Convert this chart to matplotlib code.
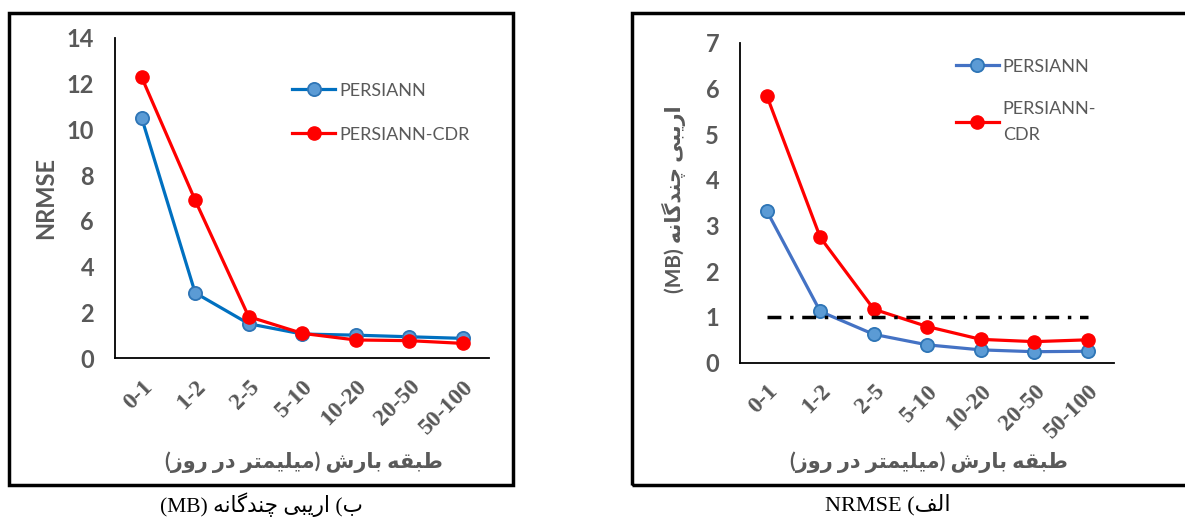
import matplotlib.pyplot as plt
from matplotlib.patches import Rectangle

# data
classes = ['0-1', '1-2', '2-5', '5-10', '10-20', '20-50', '50-100']
nrmse_persiann = [10.5, 2.85, 1.5, 1.05, 1.0, 0.93, 0.86]
nrmse_cdr = [12.28, 6.9, 1.81, 1.08, 0.79, 0.76, 0.64]
mb_persiann = [3.32, 1.12, 0.62, 0.39, 0.28, 0.24, 0.25]
mb_cdr = [5.84, 2.74, 1.17, 0.79, 0.51, 0.46, 0.50]
mb_ref = 1.0

# persian shaping by hand (matplotlib does no arabic shaping / bidi)
FORMS = {
    'ا': ('\uFE8D', '\uFE8E', None, None),
    'ب': ('\uFE8F', '\uFE90', '\uFE91', '\uFE92'),
    'ت': ('\uFE95', '\uFE96', '\uFE97', '\uFE98'),
    'د': ('\uFEA9', '\uFEAA', None, None),
    'ر': ('\uFEAD', '\uFEAE', None, None),
    'ز': ('\uFEAF', '\uFEB0', None, None),
    'ش': ('\uFEB5', '\uFEB6', '\uFEB7', '\uFEB8'),
    'ط': ('\uFEC1', '\uFEC2', '\uFEC3', '\uFEC4'),
    'ف': ('\uFED1', '\uFED2', '\uFED3', '\uFED4'),
    'ق': ('\uFED5', '\uFED6', '\uFED7', '\uFED8'),
    'ل': ('\uFEDD', '\uFEDE', '\uFEDF', '\uFEE0'),
    'م': ('\uFEE1', '\uFEE2', '\uFEE3', '\uFEE4'),
    'ن': ('\uFEE5', '\uFEE6', '\uFEE7', '\uFEE8'),
    'ه': ('\uFEE9', '\uFEEA', '\uFEEB', '\uFEEC'),
    'و': ('\uFEED', '\uFEEE', None, None),
    'ی': ('\uFBFC', '\uFBFD', '\uFBFE', '\uFBFF'),
    'چ': ('\uFB7A', '\uFB7B', '\uFB7C', '\uFB7D'),
    'گ': ('\uFB92', '\uFB93', '\uFB94', '\uFB95'),
}


def dual(c):
    return c in FORMS and FORMS[c][2] is not None


def fa(word):
    out = []
    for i, c in enumerate(word):
        prev = i > 0 and dual(word[i - 1])
        nxt = i < len(word) - 1 and dual(c) and word[i + 1] in FORMS
        iso, fin, ini, med = FORMS[c]
        if prev and nxt:
            out.append(med)
        elif prev:
            out.append(fin)
        elif nxt:
            out.append(ini)
        else:
            out.append(iso)
    return ''.join(out[::-1])


xlab = '(' + fa('روز') + ' ' + fa('در') + ' ' + fa('میلیمتر') + ') ' + fa('بارش') + ' ' + fa('طبقه')
ylab_mb = '(MB) ' + fa('چندگانه') + ' ' + fa('اریبی')
cap_left = '(MB) ' + fa('چندگانه') + ' ' + fa('اریبی') + ' (' + fa('ب')
cap_right = 'NRMSE (' + fa('الف')

gray = '#595959'
sans = ['Lato', 'DejaVu Sans']
serif = ['Liberation Serif', 'DejaVu Sans']

fig = plt.figure(figsize=(11.85, 5.17), dpi=100)
ax1 = fig.add_axes([0.097, 0.3075, 0.316, 0.619])
ax2 = fig.add_axes([0.6245, 0.2985, 0.316, 0.619])

x = list(range(len(classes)))

ax1.plot(x, nrmse_persiann, color='#0070C0', lw=2.3, marker='o', ms=9.5,
         mfc='#5B9BD5', mec='#2E75B6', mew=1.3, label='PERSIANN')
ax1.plot(x, nrmse_cdr, color='#FF0000', lw=2.3, marker='o', ms=9.5,
         mfc='#FF0000', mec='#FF0000', label='PERSIANN-CDR')
ax1.set_ylim(0, 14)
ax1.set_yticks(range(0, 15, 2))
ax1.set_ylabel('NRMSE', fontsize=17, fontweight='bold', color=gray, family=sans)
ax1.yaxis.set_label_coords(-0.155, 0.5)

ax2.plot(x, mb_persiann, color='#4472C4', lw=2.3, marker='o', ms=9.5,
         mfc='#5B9BD5', mec='#2E75B6', mew=1.3, label='PERSIANN')
ax2.plot(x, mb_cdr, color='#FF0000', lw=2.3, marker='o', ms=9.5,
         mfc='#FF0000', mec='#FF0000', label='PERSIANN-\nCDR')
ax2.plot([x[0], x[-1]], [mb_ref, mb_ref], color='black', lw=2.5,
         linestyle=(0, (4, 2.5, 1, 2.5)))
ax2.set_ylim(0, 7)
ax2.set_yticks(range(0, 8))
ax2.set_ylabel(ylab_mb, fontsize=15, fontweight='bold', color=gray, family=sans)
ax2.yaxis.set_label_coords(-0.145, 0.51)

for ax in (ax1, ax2):
    ax.set_xlim(-0.5, 6.5)
    ax.set_xticks(x)
    ax.set_xticklabels(classes, rotation=45, ha='right', rotation_mode='anchor',
                       fontsize=17, fontweight='bold', color=gray, family=serif)
    for t in ax.get_yticklabels():
        t.set_fontsize(17)
        t.set_fontweight('bold')
        t.set_color(gray)
        t.set_family(sans)
    ax.tick_params(axis='both', length=0)
    ax.tick_params(axis='y', pad=15)
    ax.tick_params(axis='x', pad=13)
    ax.spines['top'].set_visible(False)
    ax.spines['right'].set_visible(False)
    ax.spines['left'].set_linewidth(1.3)
    ax.spines['bottom'].set_linewidth(1.3)

leg1 = ax1.legend(loc='upper left', bbox_to_anchor=(0.473, 0.86), frameon=False,
                  borderpad=0, borderaxespad=0, handlelength=2.4,
                  handletextpad=0.2, labelspacing=1.55,
                  prop={'family': sans, 'size': 13})
leg2 = ax2.legend(loc='upper left', bbox_to_anchor=(0.576, 0.95), frameon=False,
                  borderpad=0, borderaxespad=0, handlelength=2.4,
                  handletextpad=0.2, labelspacing=1.45,
                  prop={'family': sans, 'size': 13})
for leg in (leg1, leg2):
    for t in leg.get_texts():
        t.set_color(gray)
        t.set_linespacing(1.75)

# x-axis titles
fig.text(0.2565, 0.1064, xlab, ha='center', va='center', fontsize=15,
         fontweight='bold', color=gray, family=sans)
fig.text(0.784, 0.1064, xlab, ha='center', va='center', fontsize=15,
         fontweight='bold', color=gray, family=sans)

# panel frames
fig.add_artist(Rectangle((0.0076, 0.0619), 0.4253, 0.9135, transform=fig.transFigure,
                         fill=False, lw=2.5, ec='black'))
fig.add_artist(Rectangle((0.5333, 0.0619), 0.48, 0.9135, transform=fig.transFigure,
                         fill=False, lw=2.5, ec='black', clip_on=False))

fig.text(0.221, 0.023, cap_left, ha='center', va='center', fontsize=15.5,
         family=serif, color='black')
fig.text(0.749, 0.023, cap_right, ha='center', va='center', fontsize=16,
         family=serif, color='black')

fig.savefig('out.png', dpi=100)
